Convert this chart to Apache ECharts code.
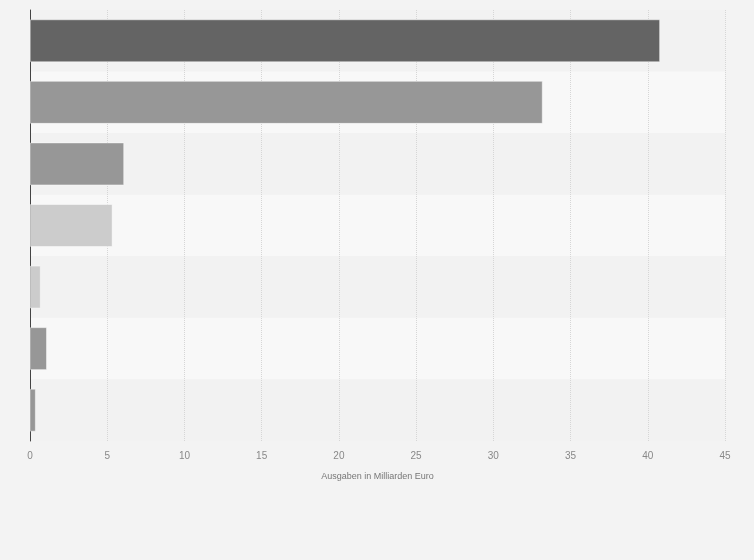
<!DOCTYPE html>
<html>
<head>
<meta charset="utf-8">
<script src="https://cdn.jsdelivr.net/npm/echarts@6/dist/echarts.min.js"></script>
<style>
  html, body { margin: 0; padding: 0; background: #f3f3f3; }
  #chart { width: 754px; height: 560px; }
</style>
</head>
<body>
<div id="chart"></div>
<script>
const categories = ['Posten 1', 'Posten 2', 'Posten 3', 'Posten 4', 'Posten 5', 'Posten 6', 'Posten 7'];
const values = [40.8, 33.2, 6.1, 5.35, 0.7, 1.1, 0.38];
const barColors = ['#646464', '#979797', '#979797', '#cccccc', '#cccccc', '#979797', '#979797'];
const xTicks = { min: 0, max: 45, interval: 5 };

const seriesData = values.map((v, i) => ({
    value: v,
    itemStyle: { color: barColors[i] }
}));

const option = {
    backgroundColor: '#f3f3f3',
    animation: false,
    grid: {
        left: 30,
        right: 29,
        top: 10,
        bottom: 119
    },
    xAxis: {
        type: 'value',
        min: xTicks.min,
        max: xTicks.max,
        interval: xTicks.interval,
        name: 'Ausgaben in Milliarden Euro',
        nameLocation: 'middle',
        nameGap: 31,
        nameTextStyle: { color: '#777', fontSize: 9, fontFamily: 'Liberation Sans' },
        axisLine: { show: false },
        axisTick: { show: false },
        axisLabel: { color: '#888', fontSize: 10, margin: 10, fontFamily: 'Liberation Sans' },
        splitLine: { show: true, lineStyle: { color: '#d6d6d6', type: 'dotted', width: 1 } }
    },
    yAxis: {
        type: 'category',
        data: categories,
        inverse: true,
        axisLine: { show: true, lineStyle: { color: '#444', width: 1 } },
        axisTick: { show: false },
        axisLabel: { show: false },
        splitArea: { show: true, areaStyle: { color: ['#f2f2f2', '#f8f8f8'] } },
        splitLine: { show: false }
    },
    series: [{
        type: 'bar',
        data: seriesData,
        barWidth: 43,
        itemStyle: { borderColor: 'rgba(255,255,255,0.45)', borderWidth: 1 }
    }]
};

const myChart = echarts.init(document.getElementById('chart'));
myChart.setOption(option);
</script>
</body>
</html>
